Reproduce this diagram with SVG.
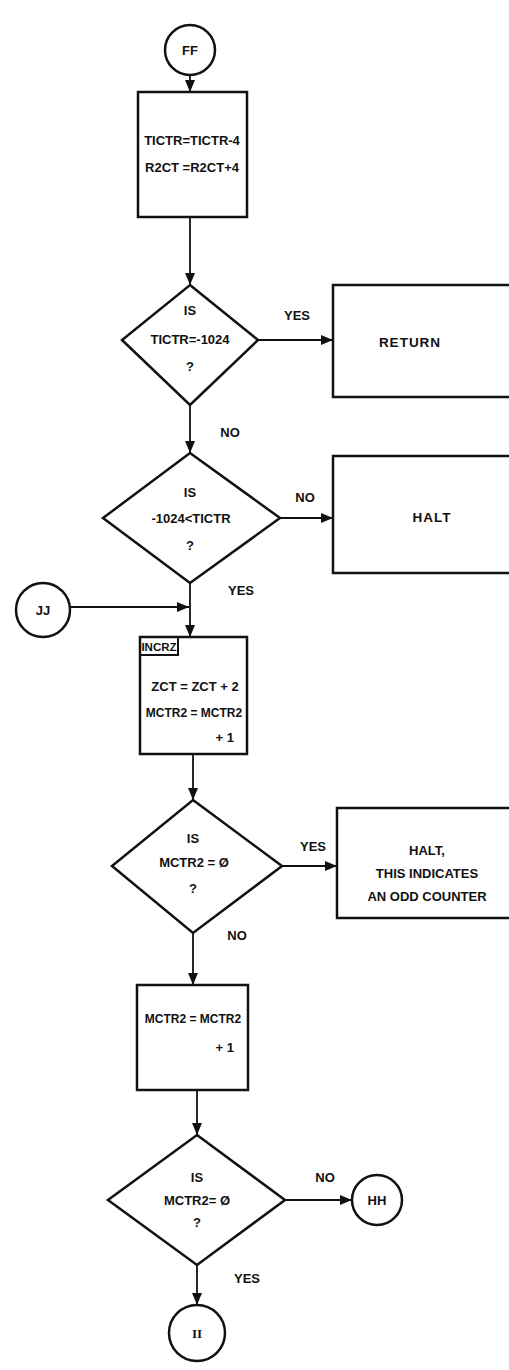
<svg xmlns="http://www.w3.org/2000/svg" width="509" height="1370" viewBox="0 0 509 1370">
<style>
.s{fill:#fff;stroke:#111;stroke-width:2.5}
.c{fill:none;stroke:#111;stroke-width:1.8}
text{font-family:"Liberation Sans",Arial,sans-serif;font-weight:bold;font-size:13px;fill:#111;text-anchor:middle}
.l{font-size:13.5px;letter-spacing:1px}
.m{font-size:12px}
.ser{font-family:"Liberation Serif",serif}
</style>
<defs>
<marker id="a" markerWidth="12" markerHeight="10" refX="12" refY="5" orient="auto" markerUnits="userSpaceOnUse">
<path d="M0,0 L12,5 L0,10 Z" fill="#111"/>
</marker>
</defs>
<rect width="509" height="1370" fill="#fff"/>
<g id="connectors">
<line class="c" x1="190" y1="75" x2="190" y2="92" marker-end="url(#a)"/>
<line class="c" x1="190" y1="217" x2="190" y2="285" marker-end="url(#a)"/>
<line class="c" x1="258" y1="340" x2="333" y2="340" marker-end="url(#a)"/>
<line class="c" x1="190" y1="405" x2="190" y2="453" marker-end="url(#a)"/>
<line class="c" x1="280" y1="518" x2="333" y2="518" marker-end="url(#a)"/>
<line class="c" x1="190" y1="583" x2="190" y2="637" marker-end="url(#a)"/>
<line class="c" x1="70" y1="607" x2="189" y2="607" marker-end="url(#a)"/>
<line class="c" x1="193" y1="754" x2="193" y2="800" marker-end="url(#a)"/>
<line class="c" x1="282" y1="866" x2="337" y2="866" marker-end="url(#a)"/>
<line class="c" x1="193" y1="933" x2="193" y2="985" marker-end="url(#a)"/>
<line class="c" x1="197" y1="1090" x2="197" y2="1135" marker-end="url(#a)"/>
<line class="c" x1="285" y1="1200" x2="352" y2="1200" marker-end="url(#a)"/>
<line class="c" x1="197" y1="1265" x2="197" y2="1305" marker-end="url(#a)"/>
<text x="297" y="320">YES</text>
<text x="230" y="437">NO</text>
<text x="305" y="502">NO</text>
<text x="241" y="595">YES</text>
<text x="313" y="851">YES</text>
<text x="237" y="940">NO</text>
<text x="325" y="1182">NO</text>
<text x="247" y="1283">YES</text>
</g>
<g id="FF">
<circle class="s" cx="190" cy="50" r="25"/>
<text x="190" y="55">FF</text>
</g>
<g id="box1">
<rect class="s" x="138" y="92" width="109" height="125"/>
<text x="192" y="145">TICTR=TICTR-4</text>
<text x="192" y="172">R2CT =R2CT+4</text>
</g>
<g id="dec1">
<polygon class="s" points="190,285 258,340 190,405 122,340"/>
<text x="190" y="315">IS</text>
<text x="190" y="344">TICTR=-1024</text>
<text x="190" y="371">?</text>
</g>
<g id="return">
<rect class="s" x="333" y="285" width="180" height="112"/>
<text class="l" x="410" y="347">RETURN</text>
</g>
<g id="dec2">
<polygon class="s" points="190,453 280,518 190,583 103,518"/>
<text x="190" y="497">IS</text>
<text x="191" y="523">-1024&lt;TICTR</text>
<text x="190" y="550">?</text>
</g>
<g id="halt1">
<rect class="s" x="333" y="456" width="180" height="117"/>
<text class="l" x="432" y="522">HALT</text>
</g>
<g id="JJ">
<circle class="s" cx="43" cy="610" r="27"/>
<text x="43" y="615">JJ</text>
</g>
<g id="incrz">
<rect class="s" x="140" y="637" width="107" height="117"/>
<path d="M140,655 H178 V637" fill="none" stroke="#111" stroke-width="2"/>
<text x="159" y="651" style="font-size:11.5px">INCRZ</text>
<text x="195" y="691">ZCT = ZCT + 2</text>
<text class="m" x="194" y="717">MCTR2 = MCTR2</text>
<text x="234" y="742" style="text-anchor:end">+ 1</text>
</g>
<g id="dec3">
<polygon class="s" points="193,800 282,866 193,933 112,866"/>
<text x="193" y="843">IS</text>
<text x="194" y="867">MCTR2 = Ø</text>
<text x="193" y="893">?</text>
</g>
<g id="halt2">
<rect class="s" x="337" y="808" width="176" height="110"/>
<text x="427" y="855">HALT,</text>
<text x="427" y="878">THIS INDICATES</text>
<text x="427" y="901">AN ODD COUNTER</text>
</g>
<g id="box4">
<rect class="s" x="137" y="985" width="111" height="105"/>
<text class="m" x="193" y="1023">MCTR2 = MCTR2</text>
<text x="234" y="1052" style="text-anchor:end">+ 1</text>
</g>
<g id="dec4">
<polygon class="s" points="197,1135 285,1200 197,1265 108,1200"/>
<text x="197" y="1182">IS</text>
<text x="197" y="1205">MCTR2= Ø</text>
<text x="197" y="1227">?</text>
</g>
<g id="HH">
<circle class="s" cx="377" cy="1200" r="25"/>
<text x="377" y="1205">HH</text>
</g>
<g id="II">
<circle class="s" cx="197" cy="1333" r="28"/>
<text class="ser" x="197" y="1338">II</text>
</g>
</svg>
